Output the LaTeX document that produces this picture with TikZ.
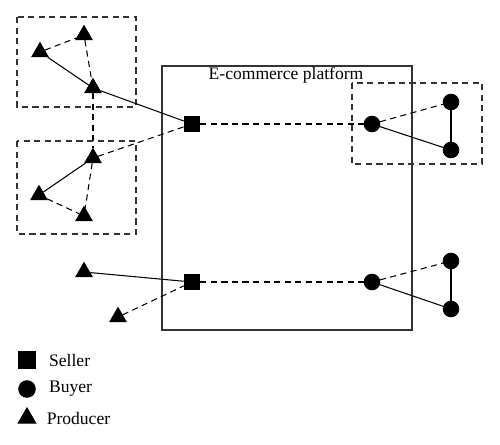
\documentclass[tikz,border=0pt]{standalone}
\usepackage{fontspec}
\setmainfont{Liberation Serif}
\usetikzlibrary{shapes.geometric,positioning}
\begin{document}
\begin{tikzpicture}[
x=0.02cm,y=-0.02cm,
prod/.style={
  draw,
  fill=black,
  regular polygon,
  regular polygon sides=3,
  inner sep=0pt,
  minimum size=3.7mm
},
buy/.style={
  draw,
  fill=black,
  circle,
  inner sep=0pt,
  minimum size=3.1mm
},
sell/.style={
  draw,
  fill=black,
  rectangle,
  inner sep=0pt,
  minimum size=3.1mm
},
grp/.style={
  draw=black!80,
  dash pattern=on 3.5pt off 2.5pt
},
dlink/.style={dash pattern=on 3.5pt off 2.5pt},
font=\fontsize{10}{12}\selectfont,semithick
]
\useasboundingbox (0,0) rectangle (500,444);

% platform and groups
\draw[draw=black!80] (162,66) rectangle (412,330);
\node (plat) at (286,75) {E-commerce platform};
\draw[grp] (17,17) rectangle (136,107);
\draw[grp] (17,141) rectangle (136,234);
\draw[grp] (352,83) rectangle (482,164);

% producers
\node[prod] (p1) at (40,52) {};
\node[prod] (p2) at (84,35) {};
\node[prod] (p3) at (93,88) {};
\node[prod] (p4) at (93,158) {};
\node[prod] (p5) at (39,195) {};
\node[prod] (p6) at (84,216) {};
\node[prod] (p7) at (84,272) {};
\node[prod] (p8) at (118,317) {};

% sellers
\node[sell] (s1) at (192,124) {};
\node[sell] (s2) at (192,282) {};

% buyers
\node[buy] (b1) at (372,124) {};
\node[buy] (b2) at (451,102) {};
\node[buy] (b3) at (451,150) {};
\node[buy] (b4) at (372,282) {};
\node[buy] (b5) at (451,261) {};
\node[buy] (b6) at (451,309) {};

% links
\draw (p1) -- (p3);
\draw[dlink] (p1) -- (p2);
\draw[dlink] (p2) -- (p3);
\draw (p3) -- (s1);
\draw[dlink] (p3) -- (p4);
\draw[dlink] (p4) -- (s1);
\draw (p4) -- (p5);
\draw[dlink] (p5) -- (p6);
\draw[dlink] (p4) -- (p6);
\draw[dlink] (s1) -- (b1);
\draw[dlink] (b1) -- (b2);
\draw (b1) -- (b3);
\draw (b2) -- (b3);
\draw (p7) -- (s2);
\draw[dlink] (p8) -- (s2);
\draw[dlink] (s2) -- (b4);
\draw[dlink] (b4) -- (b5);
\draw (b4) -- (b6);
\draw (b5) -- (b6);

% legend
\node[sell,minimum size=3.3mm] (lsell) at (27,360) {};
\node[right=1.4mm of lsell] (tsell) {Seller};
\node[buy,minimum size=3.3mm] (lbuy) at (27,389) {};
\node[right=1.4mm of lbuy] (tbuy) {Buyer};
\node[prod,minimum size=4mm] (lprod) at (27,418) {};
\node[right=1.4mm of lprod] (tprod) {Producer};
\end{tikzpicture}
\end{document}
